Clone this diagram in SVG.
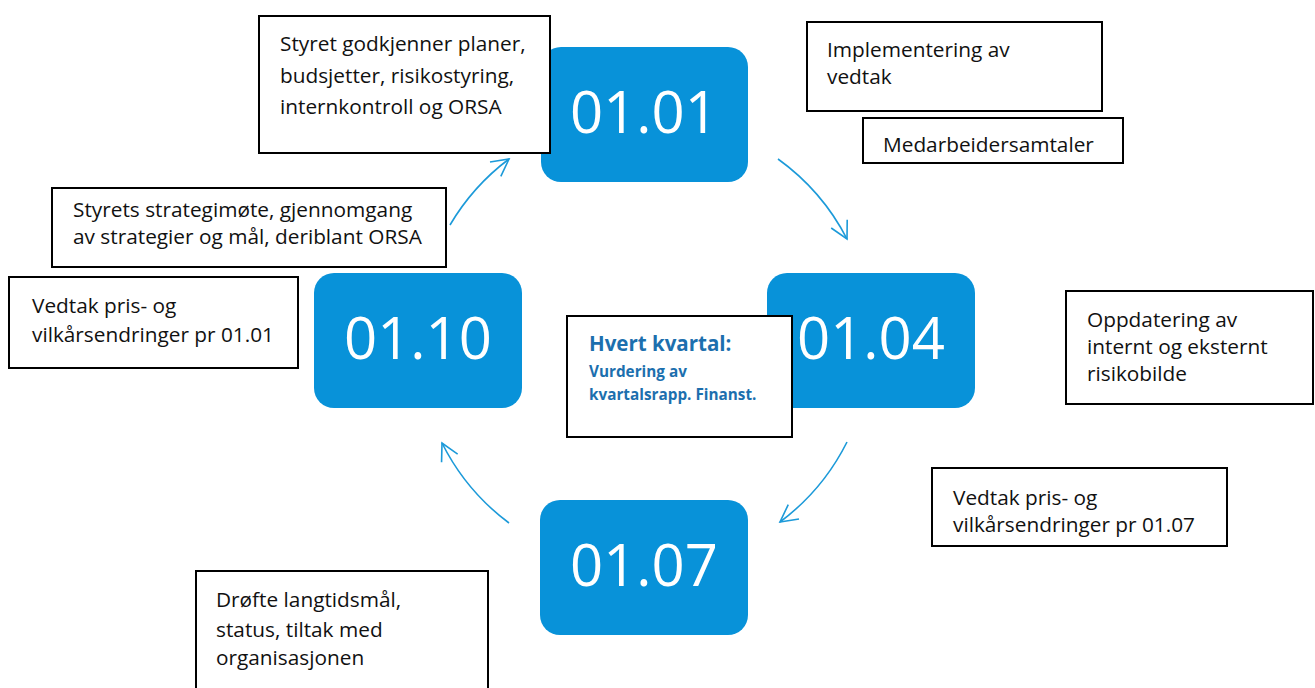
<svg xmlns="http://www.w3.org/2000/svg" width="1315" height="688" viewBox="0 0 1315 688">
<style>
.bg{fill:#ffffff}
.blue{fill:#0892D9}
.num{font-family:"Open Sans","Liberation Sans",sans-serif;font-size:58px;fill:#ffffff;text-anchor:middle}
.box{fill:#ffffff;stroke:#000000;stroke-width:2}
.t{font-family:"Open Sans","Liberation Sans",sans-serif;font-size:20.8px;fill:#111111}
.h{font-family:"Open Sans","Liberation Sans",sans-serif;font-weight:bold;fill:#1C6FAE}
.arc{fill:none;stroke:#1C9AD9;stroke-width:1.6}
</style>
<defs>
<marker id="ah" markerUnits="userSpaceOnUse" viewBox="-20 -12 22 24" markerWidth="22" markerHeight="24" refX="0" refY="0" orient="auto">
<path d="M-17,-9 L0,0 L-17,9" fill="none" stroke="#1C9AD9" stroke-width="1.6"/>
</marker>
</defs>
<rect class="bg" x="0" y="0" width="1315" height="688"/>

<g id="connectors">
<path class="arc" d="M450,225 A226,226 0 0 1 509,159" marker-end="url(#ah)"/>
<path class="arc" d="M778,159 A226,226 0 0 1 847,239" marker-end="url(#ah)"/>
<path class="arc" d="M847,442 A226,226 0 0 1 780,522" marker-end="url(#ah)"/>
<path class="arc" d="M509,523 A226,226 0 0 1 442,443" marker-end="url(#ah)"/>
</g>

<g id="n0101">
<rect class="blue" x="541" y="47" width="207" height="135" rx="20"/>
<text class="num" x="644" y="133">01.01</text>
</g>
<g id="n0110">
<rect class="blue" x="314" y="273" width="208" height="135" rx="20"/>
<text class="num" x="418" y="359">01.10</text>
</g>
<g id="n0104">
<rect class="blue" x="767" y="273" width="208" height="135" rx="20"/>
<text class="num" x="871" y="359">01.04</text>
</g>
<g id="n0107">
<rect class="blue" x="540" y="500" width="208" height="135" rx="20"/>
<text class="num" x="644" y="586">01.07</text>
</g>

<g id="styret">
<rect class="box" x="259" y="16" width="291" height="137"/>
<text class="t" x="280" y="51">Styret godkjenner planer,</text>
<text class="t" x="280" y="83">budsjetter, risikostyring,</text>
<text class="t" x="280" y="114">internkontroll og ORSA</text>
</g>
<g id="implementering">
<rect class="box" x="807" y="22" width="295" height="89"/>
<text class="t" x="827" y="57">Implementering av</text>
<text class="t" x="827" y="84">vedtak</text>
</g>
<g id="medarbeider">
<rect class="box" x="863" y="118" width="260" height="45"/>
<text class="t" x="883" y="152">Medarbeidersamtaler</text>
</g>
<g id="strategimote">
<rect class="box" x="52" y="188" width="394" height="79"/>
<text class="t" x="73" y="217">Styrets strategimøte, gjennomgang</text>
<text class="t" x="73" y="244">av strategier og mål, deriblant ORSA</text>
</g>
<g id="vedtak0101">
<rect class="box" x="9" y="277" width="289" height="91"/>
<text class="t" x="32" y="313">Vedtak pris- og</text>
<text class="t" x="32" y="342">vilkårsendringer pr 01.01</text>
</g>
<g id="kvartal">
<rect class="box" x="567" y="316" width="225" height="121"/>
<text class="h" x="589" y="351" font-size="20.5">Hvert kvartal:</text>
<text class="h" x="589" y="377" font-size="15.3">Vurdering av</text>
<text class="h" x="589" y="400" font-size="15.3">kvartalsrapp. Finanst.</text>
</g>
<g id="oppdatering">
<rect class="box" x="1066" y="291" width="247" height="113"/>
<text class="t" x="1087" y="327">Oppdatering av</text>
<text class="t" x="1087" y="354">internt og eksternt</text>
<text class="t" x="1087" y="381">risikobilde</text>
</g>
<g id="vedtak0107">
<rect class="box" x="932" y="468" width="295" height="78"/>
<text class="t" x="953" y="505">Vedtak pris- og</text>
<text class="t" x="953" y="532">vilkårsendringer pr 01.07</text>
</g>
<g id="drofte">
<rect class="box" x="196" y="571" width="292" height="130"/>
<text class="t" x="216" y="607">Drøfte langtidsmål,</text>
<text class="t" x="216" y="637">status, tiltak med</text>
<text class="t" x="216" y="665">organisasjonen</text>
</g>
</svg>
